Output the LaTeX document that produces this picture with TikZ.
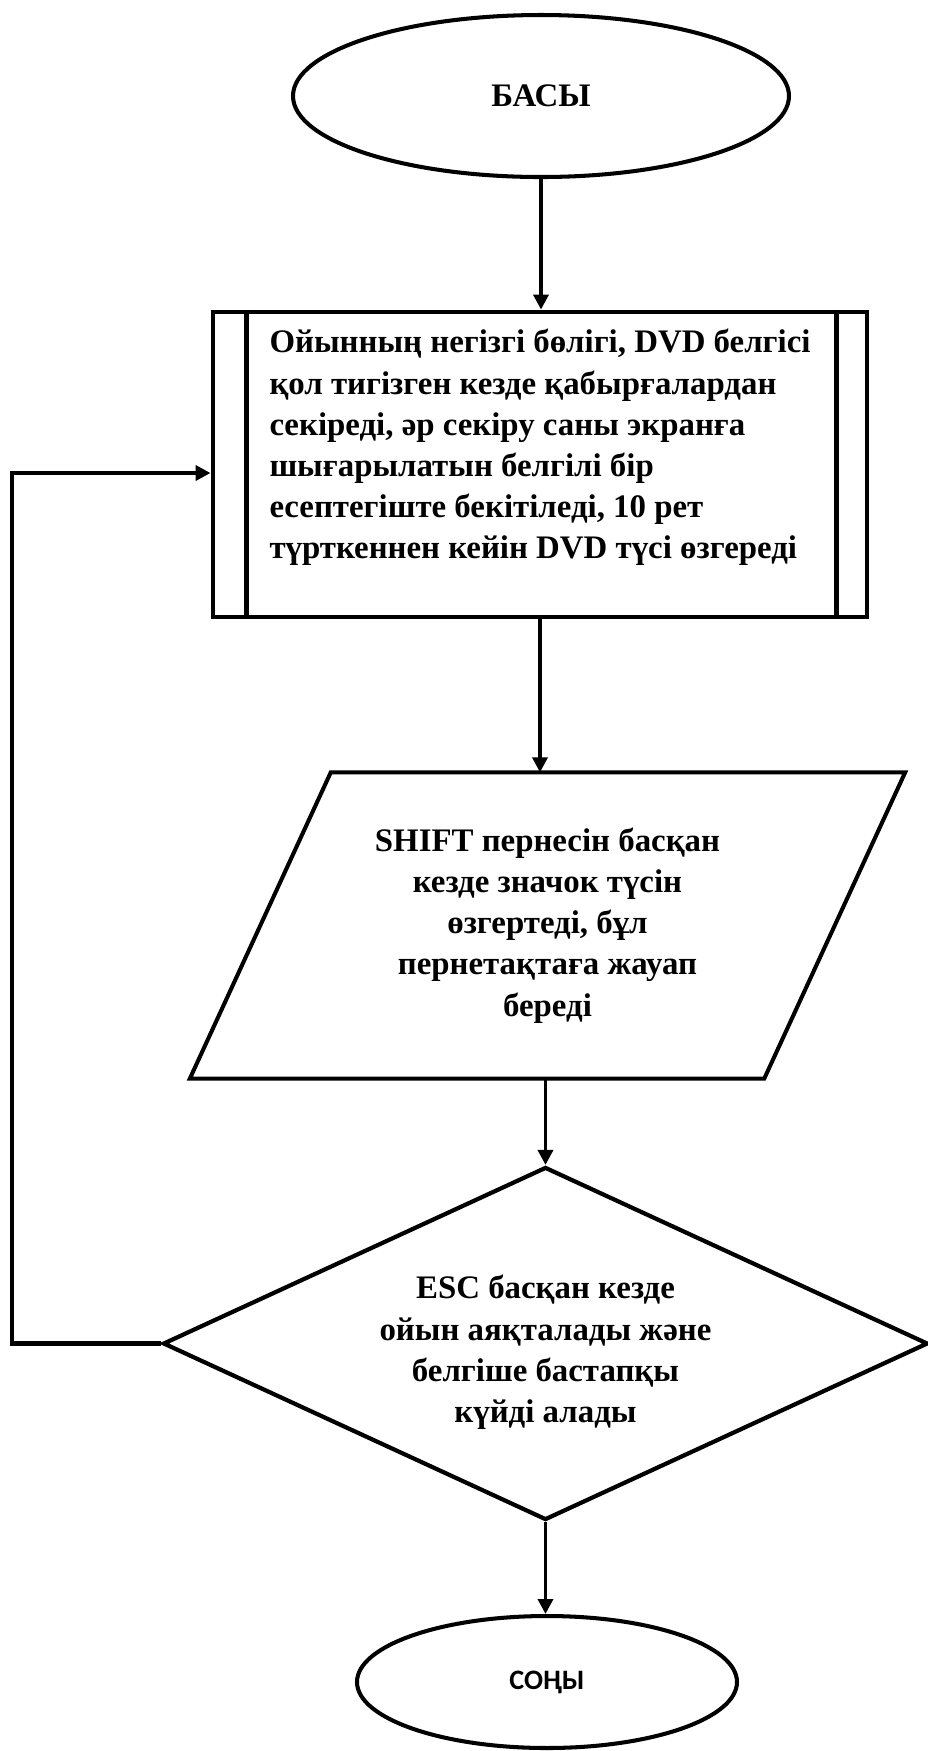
\documentclass[tikz,border=0pt]{standalone}
\usepackage{fontspec}
\setmainfont{Liberation Serif}
\newfontfamily\calibfont{Carlito}
\usetikzlibrary{shapes.geometric,arrows.meta}

\begin{document}
\begin{tikzpicture}[
        font=\bfseries\fontsize{9.35}{11.7}\selectfont,
        flowline/.style={line width=1pt, -{Triangle[length=1.5mm, width=1.5mm]}},
        termnode/.style={draw, ellipse, line width=1.15pt, inner sep=0pt},
    ]
            \useasboundingbox (0, 0) rectangle (9.28, -17.51);

            \node[termnode, minimum width=4.96cm, minimum height=1.62cm] (start) at (5.41, -0.96){БАСЫ};

            %%main part
            \node[draw, line width=1.4pt, minimum width=6.54cm, minimum height=3.05cm, align=left] (proc) at (5.40, -4.645)
                {Ойынның негізгі бөлігі, DVD белгісі\\
                 қол тигізген кезде қабырғалардан\\
                 секіреді, әр секіру саны экранға\\
                 шығарылатын белгілі бір\\
                 есептегіште бекітіледі, 10 рет\\
                 түрткеннен кейін DVD түсі өзгереді\\
                 \mbox{}};
                \draw[line width=1.2pt] ([xshift=3.6mm]proc.north west) to ([xshift=3.6mm]proc.south west);
                \draw[line width=1.2pt] ([xshift=-3.3mm]proc.north east) to ([xshift=-3.3mm]proc.south east);

            %%shift key
            \node[minimum width=5.73cm, minimum height=3.05cm, align=center] (io) at (5.475, -9.255)
                {SHIFT пернесін басқан\\
                 кезде значок түсін\\
                 өзгертеді, бұл\\
                 пернетақтаға жауап\\
                 береді};
                \draw[line width=1.15pt] ([xshift=7.05mm]io.north west) to ([xshift=7.05mm]io.north east)
                    to ([xshift=-7.05mm]io.south east) to ([xshift=-7.05mm]io.south west) -- cycle;

            %%esc key
            \node[draw, diamond, aspect=2.17, inner sep=0pt, line width=1.2pt,
                  minimum width=7.65cm, minimum height=3.53cm, align=center] (dec) at (5.455, -13.435)
                {\mbox{}\\
                 ESC басқан кезде\\
                 ойын аяқталады және\\
                 белгіше бастапқы\\
                 күйді алады};

            \node[termnode, minimum width=3.8cm, minimum height=1.32cm,
                  font=\calibfont\bfseries\fontsize{8}{10}\selectfont] (stop) at (5.47, -16.82){СОҢЫ};

            %%arrows
            \draw[flowline] (start.south) to (start.south |- proc.north);
            \draw[flowline] (proc.south) to (proc.south |- io.north);
            \draw[flowline] (dec.north |- io.south) to (dec.north);
            \draw[flowline] (dec.south) to (dec.south |- stop.north);

            %%back to the game
            \coordinate (loopx) at (0.12, 0);
            \draw[line width=1.3pt, -{Triangle[length=1.5mm, width=1.5mm]}]
                (dec.west) -- (dec.west -| loopx) |- ([yshift=-0.85mm]proc.west);

\end{tikzpicture}
\end{document}
